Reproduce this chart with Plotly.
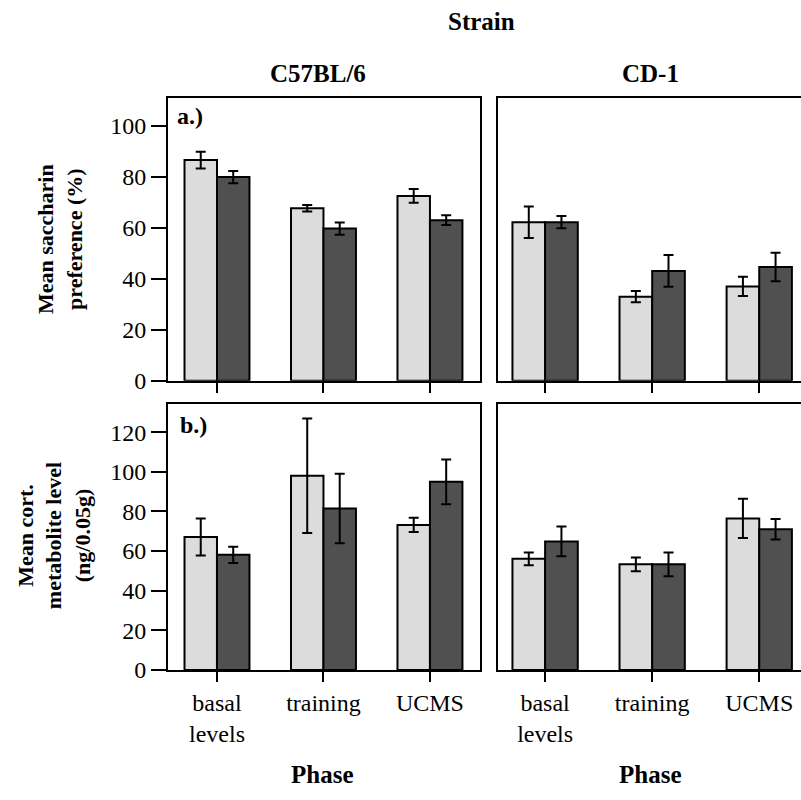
import plotly.graph_objects as go

phases = ["basal<br>levels", "training", "UCMS"]
strains = ["C57BL/6", "CD-1"]

# Panel a: Mean saccharin preference (%)
sacch_light = {"C57BL/6": [86.6, 67.7, 72.5], "CD-1": [62.2, 33.0, 37.0]}
sacch_light_err = {"C57BL/6": [3.3, 1.3, 2.7], "CD-1": [6.2, 2.2, 3.8]}
sacch_dark = {"C57BL/6": [79.9, 59.7, 63.0], "CD-1": [62.2, 43.1, 44.6]}
sacch_dark_err = {"C57BL/6": [2.4, 2.4, 1.9], "CD-1": [2.4, 6.2, 5.6]}

# Panel b: Mean cort. metabolite level (ng/0.05g)
cort_light = {"C57BL/6": [67.1, 98.0, 73.2], "CD-1": [56.1, 53.3, 76.5]}
cort_light_err = {"C57BL/6": [9.3, 28.9, 3.6], "CD-1": [3.2, 3.5, 9.9]}
cort_dark = {"C57BL/6": [58.1, 81.5, 95.0], "CD-1": [64.9, 53.3, 71.0]}
cort_dark_err = {"C57BL/6": [4.1, 17.6, 11.3], "CD-1": [7.5, 6.0, 5.2]}

top_ticks = [0, 20, 40, 60, 80, 100]
bot_ticks = [0, 20, 40, 60, 80, 100, 120]

LIGHT = "#dcdcdc"
DARK = "#505050"
FONT = "Liberation Serif"
W, H = 801, 800

def px_x(p):
    return p / W

def px_y(p):
    return 1 - p / H

fig = go.Figure()

xdom = {"C57BL/6": [px_x(168), px_x(480)], "CD-1": [px_x(498), 1.0]}
xrng = {"C57BL/6": [-0.46, 2.47], "CD-1": [-0.44, 2.39]}
ydom = {"a": [px_y(387), px_y(100)], "b": [px_y(681), px_y(411)]}
yrng = {"a": [0, 110.8], "b": [0, 134.1]}

panels = [
    ("a", "C57BL/6", sacch_light, sacch_light_err, sacch_dark, sacch_dark_err, 1),
    ("a", "CD-1", sacch_light, sacch_light_err, sacch_dark, sacch_dark_err, 2),
    ("b", "C57BL/6", cort_light, cort_light_err, cort_dark, cort_dark_err, 3),
    ("b", "CD-1", cort_light, cort_light_err, cort_dark, cort_dark_err, 4),
]

xs = [0, 1, 2]
for row, strain, L, Le, D, De, k in panels:
    xa = "x" if k == 1 else f"x{k}"
    ya = "y" if k == 1 else f"y{k}"
    for vals, errs, col in [(L[strain], Le[strain], LIGHT), (D[strain], De[strain], DARK)]:
        fig.add_trace(go.Bar(
            x=xs, y=vals, xaxis=xa, yaxis=ya,
            marker=dict(color=col, line=dict(color="black", width=2)),
            error_y=dict(type="data", array=errs, visible=True, color="black",
                         thickness=2, width=5),
            showlegend=False, hoverinfo="skip",
        ))
    left = strain == "C57BL/6"
    xkey = "xaxis" if k == 1 else f"xaxis{k}"
    ykey = "yaxis" if k == 1 else f"yaxis{k}"
    fig.layout[xkey] = dict(
        domain=xdom[strain], range=xrng[strain], anchor=ya,
        tickmode="array", tickvals=xs,
        ticktext=phases if row == "b" else ["", "", ""],
        ticks="outside", ticklen=10, tickwidth=2, tickcolor="black",
        showline=True, linecolor="black", linewidth=2, mirror=True,
        showgrid=False, zeroline=False,
        tickfont=dict(family=FONT, size=24, color="black"),
    )
    fig.layout[ykey] = dict(
        domain=ydom[row], range=yrng[row], anchor=xa,
        tickmode="array", tickvals=(top_ticks if row == "a" else bot_ticks) if left else [],
        ticks="outside" if left else "", ticklen=15, tickwidth=2, tickcolor="black",
        showticklabels=left,
        showline=True, linecolor="black", linewidth=2, mirror=left,
        showgrid=False, zeroline=False,
        tickfont=dict(family=FONT, size=24, color="black"),
    )

def ann(text, x, y, size=20, bold=True, angle=0, xanchor="center"):
    fig.add_annotation(
        text=f"<b>{text}</b>" if bold else text,
        x=px_x(x), y=px_y(y), xref="paper", yref="paper",
        xanchor=xanchor, yanchor="middle", showarrow=False, textangle=angle,
        font=dict(family=FONT, size=size, color="black"),
    )

ann("Strain", 481, 22, size=25)
ann("C57BL/6", 318, 75, size=25)
ann("CD-1", 650, 75, size=25)
ann("Phase", 322, 787, size=25)
ann("Phase", 650, 787, size=25)
ann("a.)", 175, 118, size=24, xanchor="left")
ann("b.)", 178, 432, size=24, xanchor="left")
ann("Mean saccharin<br>preference (%)", 60, 243, size=22, angle=-90)
ann("Mean cort.<br>metabolite level<br>(ng/0.05g)", 54, 545, size=22, angle=-90)

fig.update_layout(
    width=W, height=H,
    margin=dict(l=0, r=0, t=0, b=0),
    paper_bgcolor="white", plot_bgcolor="white",
    barmode="group", bargap=0.39, bargroupgap=0,
    font=dict(family=FONT, color="black"),
)

fig.write_html("out.html", config={"displayModeBar": False},
               post_script="document.body.style.margin='0';document.body.style.overflow='hidden';")
